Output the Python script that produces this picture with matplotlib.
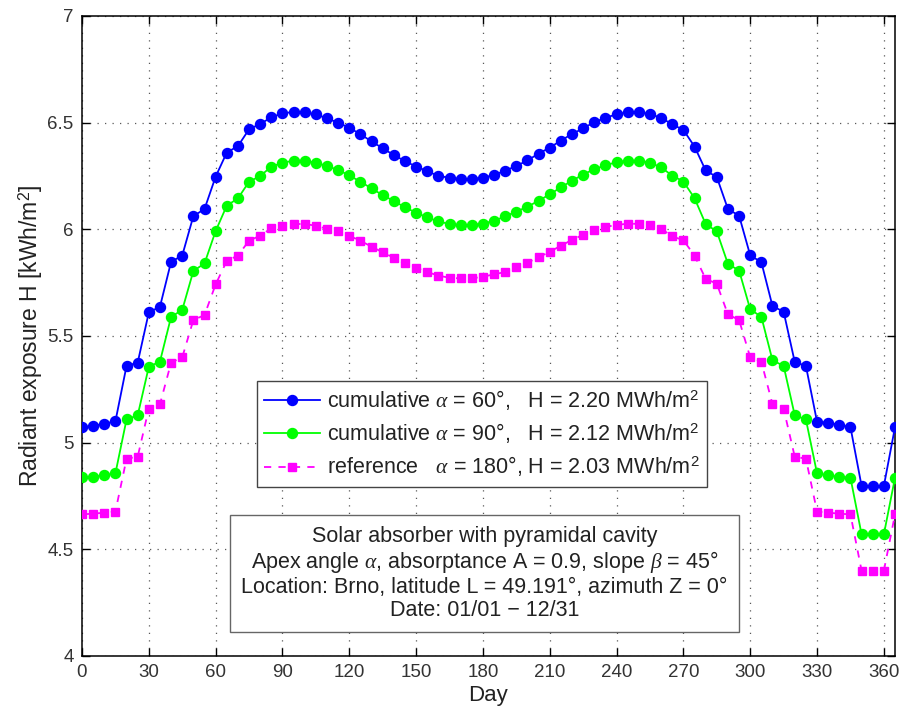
import numpy as np
import matplotlib
matplotlib.use("Agg")
import matplotlib.pyplot as plt

plt.rcParams['font.family'] = ['Liberation Sans', 'DejaVu Sans']
plt.rcParams['mathtext.fontset'] = 'custom'
plt.rcParams['mathtext.rm'] = 'Liberation Sans'
plt.rcParams['mathtext.it'] = 'Liberation Serif:italic'

days = list(range(0, 366, 5))

h_alpha60 = [5.073, 5.078, 5.089, 5.100, 5.360, 5.375, 5.611, 5.637, 5.848, 5.877,
             6.062, 6.095, 6.247, 6.360, 6.390, 6.469, 6.494, 6.525, 6.544, 6.550,
             6.548, 6.539, 6.520, 6.500, 6.476, 6.446, 6.412, 6.380, 6.348, 6.320,
             6.294, 6.273, 6.250, 6.242, 6.236, 6.236, 6.242, 6.255, 6.275, 6.297,
             6.323, 6.355, 6.383, 6.416, 6.447, 6.473, 6.503, 6.522, 6.540, 6.548,
             6.550, 6.540, 6.523, 6.492, 6.466, 6.388, 6.276, 6.245, 6.095, 6.064,
             5.878, 5.846, 5.640, 5.614, 5.378, 5.360, 5.098, 5.094, 5.083, 5.073,
             4.797, 4.797, 4.797, 5.073]

h_alpha90 = [4.839, 4.840, 4.847, 4.856, 5.109, 5.128, 5.356, 5.380, 5.590, 5.622,
             5.805, 5.840, 5.992, 6.111, 6.145, 6.223, 6.250, 6.294, 6.312, 6.322,
             6.322, 6.312, 6.297, 6.278, 6.253, 6.223, 6.192, 6.160, 6.133, 6.103,
             6.078, 6.056, 6.037, 6.025, 6.020, 6.020, 6.027, 6.040, 6.061, 6.083,
             6.106, 6.134, 6.164, 6.197, 6.228, 6.257, 6.282, 6.300, 6.315, 6.322,
             6.322, 6.313, 6.290, 6.252, 6.224, 6.146, 6.025, 5.990, 5.838, 5.807,
             5.625, 5.590, 5.386, 5.360, 5.128, 5.109, 4.856, 4.847, 4.840, 4.836,
             4.570, 4.570, 4.570, 4.836]

h_ref180 = [4.664, 4.667, 4.672, 4.677, 4.925, 4.934, 5.160, 5.180, 5.375, 5.400,
            5.575, 5.598, 5.742, 5.852, 5.877, 5.947, 5.970, 6.005, 6.017, 6.025,
            6.025, 6.017, 6.002, 5.990, 5.970, 5.946, 5.919, 5.892, 5.867, 5.840,
            5.820, 5.800, 5.783, 5.773, 5.770, 5.770, 5.778, 5.789, 5.800, 5.822,
            5.844, 5.869, 5.895, 5.923, 5.951, 5.974, 5.995, 6.011, 6.021, 6.026,
            6.026, 6.019, 6.003, 5.967, 5.949, 5.877, 5.768, 5.745, 5.601, 5.575,
            5.400, 5.379, 5.180, 5.159, 4.934, 4.925, 4.677, 4.672, 4.667, 4.664,
            4.400, 4.400, 4.400, 4.664]

labels = [r"cumulative $\alpha$ = 60°,   H = 2.20 MWh/m$^2$",
          r"cumulative $\alpha$ = 90°,   H = 2.12 MWh/m$^2$",
          r"reference   $\alpha$ = 180°, H = 2.03 MWh/m$^2$"]

xticks = list(range(0, 361, 30))
yticks = [4, 4.5, 5, 5.5, 6, 6.5, 7]
ytick_labels = ["4", "4.5", "5", "5.5", "6", "6.5", "7"]

info_text = ("Solar absorber with pyramidal cavity\n"
             r"Apex angle $\alpha$, absorptance A = 0.9, slope $\beta$ = 45°" "\n"
             "Location: Brno, latitude L = 49.191°, azimuth Z = 0°\n"
             "Date: 01/01 \u2212 12/31")

fig = plt.figure(figsize=(9.04, 7.11), dpi=100)
ax = fig.add_axes([82/904, 55/711, 813/904, 640/711])

ax.plot(days, h_alpha60, '-o', color=(0, 0, 1), lw=1.3, ms=7.2, label=labels[0], zorder=3)
ax.plot(days, h_alpha90, '-o', color=(0, 1, 0), lw=1.3, ms=7.2, label=labels[1], zorder=3)
ax.plot(days, h_ref180, '--s', color=(1, 0, 1), lw=1.3, ms=5.5, dashes=(4, 4),
        label=labels[2], zorder=3)

ax.set_xlim(0, 365)
ax.set_ylim(4, 7)
ax.set_xticks(xticks)
ax.set_yticks(yticks)
ax.set_yticklabels(ytick_labels)
ax.tick_params(direction='in', length=6, width=1, top=True, right=True,
               labelsize=13.5, colors='black', pad=6)
for tl in ax.get_xticklabels() + ax.get_yticklabels():
    tl.set_color('#333333')
for s in ax.spines.values():
    s.set_linewidth(1.1)

ax.grid(True, color='0.35', linestyle=(0, (1, 5)), linewidth=0.9)
ax.set_axisbelow(True)

ax.set_xlabel("Day", fontsize=16, color='#222222', labelpad=3)
ax.set_ylabel("Radiant exposure H [kWh/m$^2$]", fontsize=16.5, color='#222222', labelpad=2)

leg = ax.legend(loc='upper left', bbox_to_anchor=(0.215, 0.43), borderaxespad=0,
                fontsize=15.5, fancybox=False, framealpha=1, edgecolor='#444444',
                handlelength=2.6, handletextpad=0.3, labelspacing=0.4,
                borderpad=0.35)
leg.get_frame().set_linewidth(1.0)
for t in leg.get_texts():
    t.set_color('#222222')

ax.text(0.495, 0.129, info_text, transform=ax.transAxes, ha='center', va='center',
        multialignment='center', fontsize=15.5, color='#222222', linespacing=1.12,
        bbox=dict(boxstyle='square,pad=0.52', facecolor='white', edgecolor='#666666',
                  linewidth=1.0), zorder=5)

fig.savefig("out.png", dpi=100)
